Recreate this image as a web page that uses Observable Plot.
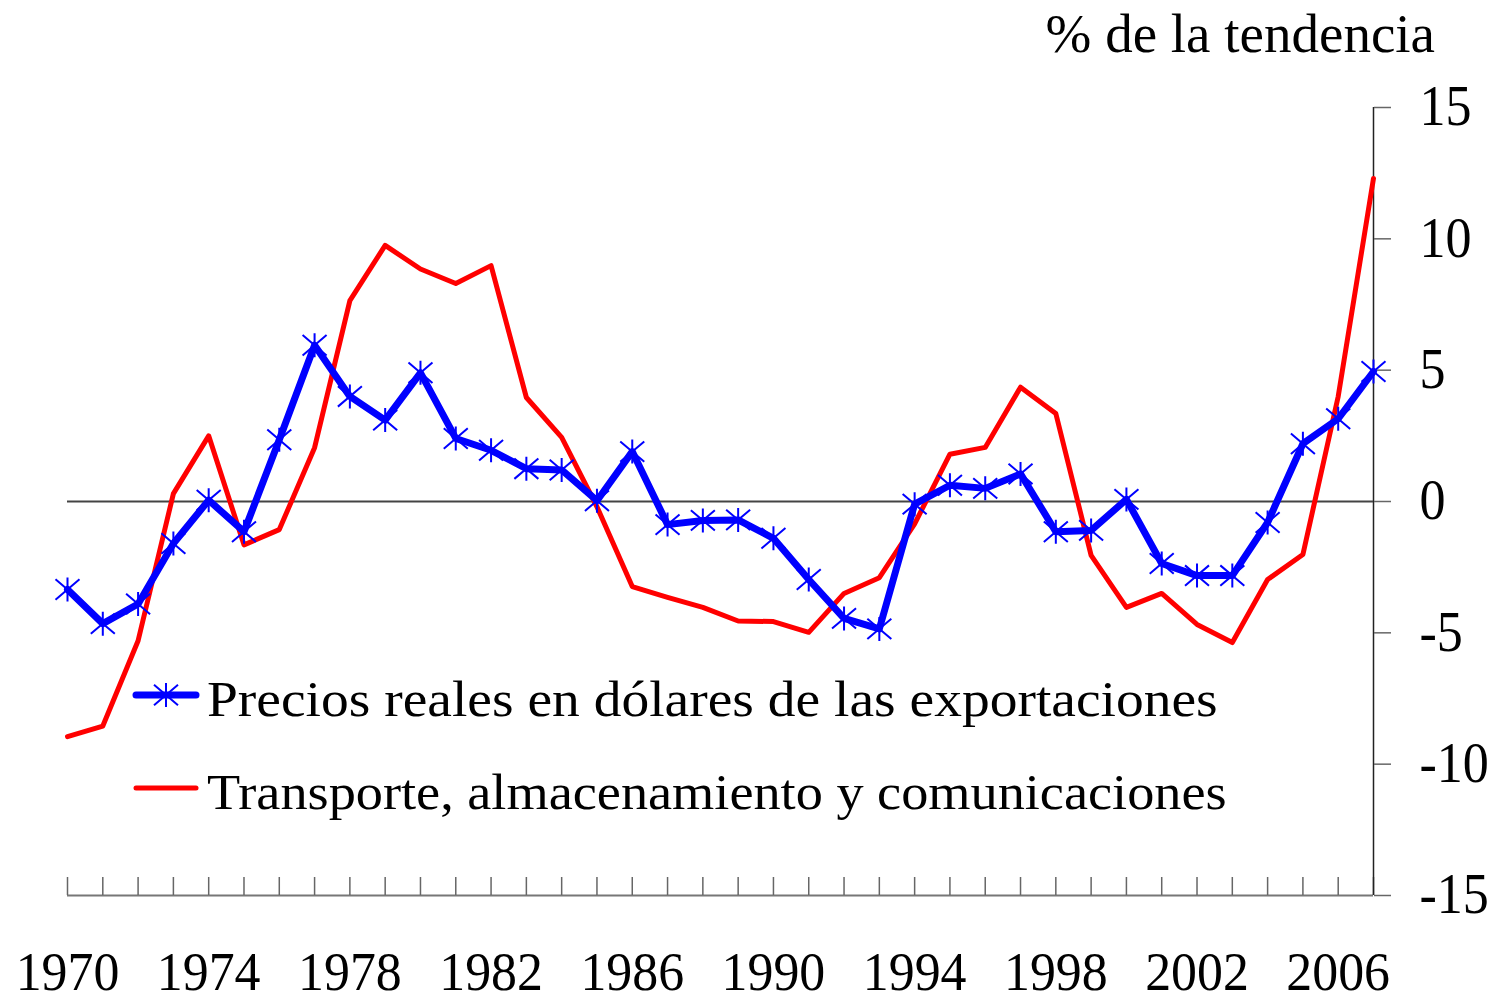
<!DOCTYPE html>
<html>
<head>
<meta charset="utf-8">
<script src="https://cdn.jsdelivr.net/npm/d3@7"></script>
<script src="https://cdn.jsdelivr.net/npm/@observablehq/plot@0.6"></script>
<style>
  html, body { margin: 0; padding: 0; background: #ffffff; }
  #wrap { position: relative; width: 1494px; height: 1002px; font-family: "Liberation Serif", "Times New Roman", serif; color: #000; }
  #title { position: absolute; top: 6px; right: 59px; font-size: 55px; line-height: 1; white-space: nowrap; }
  .leg { position: absolute; left: 207px; font-size: 51px; line-height: 1; white-space: nowrap; transform-origin: 0 50%; }
  #legsvg { position: absolute; left: 0; top: 0; }
</style>
</head>
<body>
<div id="wrap">
  <div id="chart"></div>
  <div id="title">% de la tendencia</div>
  <svg id="legsvg" width="260" height="830"></svg>
  <div class="leg" id="leg1" style="top:674px; transform: scaleX(1.088)">Precios reales en dólares de las exportaciones</div>
  <div class="leg" id="leg2" style="top:767px; transform: scaleX(1.064)">Transporte, almacenamiento y comunicaciones</div>
</div>
<script>
// ---- data ----
const years = [1970,1971,1972,1973,1974,1975,1976,1977,1978,1979,1980,1981,1982,1983,1984,1985,1986,1987,1988,1989,
               1990,1991,1992,1993,1994,1995,1996,1997,1998,1999,2000,2001,2002,2003,2004,2005,2006,2007];
const precios = [-3.35,-4.65,-3.9,-1.6,0.05,-1.15,2.35,5.95,4.0,3.1,4.9,2.4,1.95,1.25,1.2,0.03,1.9,-0.88,-0.72,-0.7,
                 -1.4,-2.97,-4.45,-4.85,-0.1,0.62,0.5,1.05,-1.15,-1.1,0.08,-2.36,-2.82,-2.82,-0.8,2.2,3.15,4.95];
const transporte = [-8.95,-8.55,-5.3,0.3,2.5,-1.65,-1.07,2.05,7.65,9.75,8.85,8.3,8.98,3.96,2.44,-0.2,-3.24,-3.65,-4.03,-4.55,
                    -4.57,-4.98,-3.5,-2.9,-0.85,1.8,2.06,4.35,3.35,-2.05,-4.03,-3.5,-4.68,-5.37,-2.97,-2.02,4.0,12.3];
const xTickLabels = [1970,1974,1978,1982,1986,1990,1994,1998,2002,2006];
const yTicks = [-15,-10,-5,0,5,10,15];
const seriesNames = ["Precios reales en dólares de las exportaciones","Transporte, almacenamiento y comunicaciones"];
const seriesColors = ["#0000ff","#ff0000"];

const blue = years.map((year, i) => ({year, value: precios[i]}));
const red = years.map((year, i) => ({year, value: transporte[i]}));

const font = "'Liberation Serif', 'Times New Roman', serif";

// asterisk marker: vertical bar plus two diagonals
const star = {
  draw(ctx, size) {
    const r = Math.sqrt(size / Math.PI);
    ctx.moveTo(0, -r); ctx.lineTo(0, r);
    ctx.moveTo(-r, -0.85 * r); ctx.lineTo(r, 0.85 * r);
    ctx.moveTo(-r, 0.85 * r); ctx.lineTo(r, -0.85 * r);
  }
};

const chart = Plot.plot({
  width: 1494,
  height: 1002,
  marginLeft: 67,
  marginRight: 121,
  marginTop: 107,
  marginBottom: 107,
  style: {fontFamily: font, background: "transparent", color: "#000", overflow: "visible"},
  x: {domain: [1970, 2007]},
  y: {domain: [-15, 15]},
  marks: [
    Plot.ruleY([-15], {stroke: "#777", strokeWidth: 2}),
    Plot.axisX({ticks: years, tickSize: 18, dy: -18, tickFormat: () => "", stroke: "#666", strokeWidth: 1.5, label: null}),
    Plot.axisX({ticks: xTickLabels, tickSize: 0, tickPadding: 56, fontSize: 54, tickFormat: d => String(d), label: null, fill: "#000"}),
    Plot.ruleX([2007], {stroke: "#222", strokeWidth: 1.5}),
    Plot.axisY({anchor: "right", ticks: yTicks, tickSize: 17, tickPadding: 29, fontSize: 56, tickFormat: d => String(d), label: null, stroke: "#666", strokeWidth: 1.5, fill: "#000"}),
    Plot.ruleY([0], {stroke: "#444", strokeWidth: 2}),
    Plot.line(red, {x: "year", y: "value", stroke: seriesColors[1], strokeWidth: 5}),
    Plot.line(blue, {x: "year", y: "value", stroke: seriesColors[0], strokeWidth: 7}),
    Plot.dot(blue, {x: "year", y: "value", symbol: star, r: 12, stroke: seriesColors[0], strokeWidth: 2})
  ]
});
document.getElementById("chart").appendChild(chart);

// condense the tick labels horizontally, like the original typeface
d3.select(chart).selectAll("g[aria-label='x-axis tick label'] text")
  .each(function() {
    const t = this.getAttribute("transform") || "";
    this.setAttribute("transform", t + " scale(0.96,1)");
  });
d3.select(chart).selectAll("g[aria-label='y-axis tick label'] text")
  .each(function() {
    const t = this.getAttribute("transform") || "";
    this.setAttribute("transform", t + " scale(0.93,1)");
  });

// legend swatches
const leg = d3.select("#legsvg");
const rows = [695, 788];
rows.forEach((y, i) => {
  leg.append("line").attr("x1", 136).attr("x2", 196).attr("y1", y).attr("y2", y)
    .attr("stroke", seriesColors[i]).attr("stroke-width", i === 0 ? 7 : 5).attr("stroke-linecap", "round");
});
leg.append("path").attr("transform", `translate(166,${rows[0]})`)
  .attr("d", d3.symbol(star, Math.PI * 144)())
  .attr("stroke", seriesColors[0]).attr("stroke-width", 2).attr("fill", "none");
</script>
</body>
</html>
